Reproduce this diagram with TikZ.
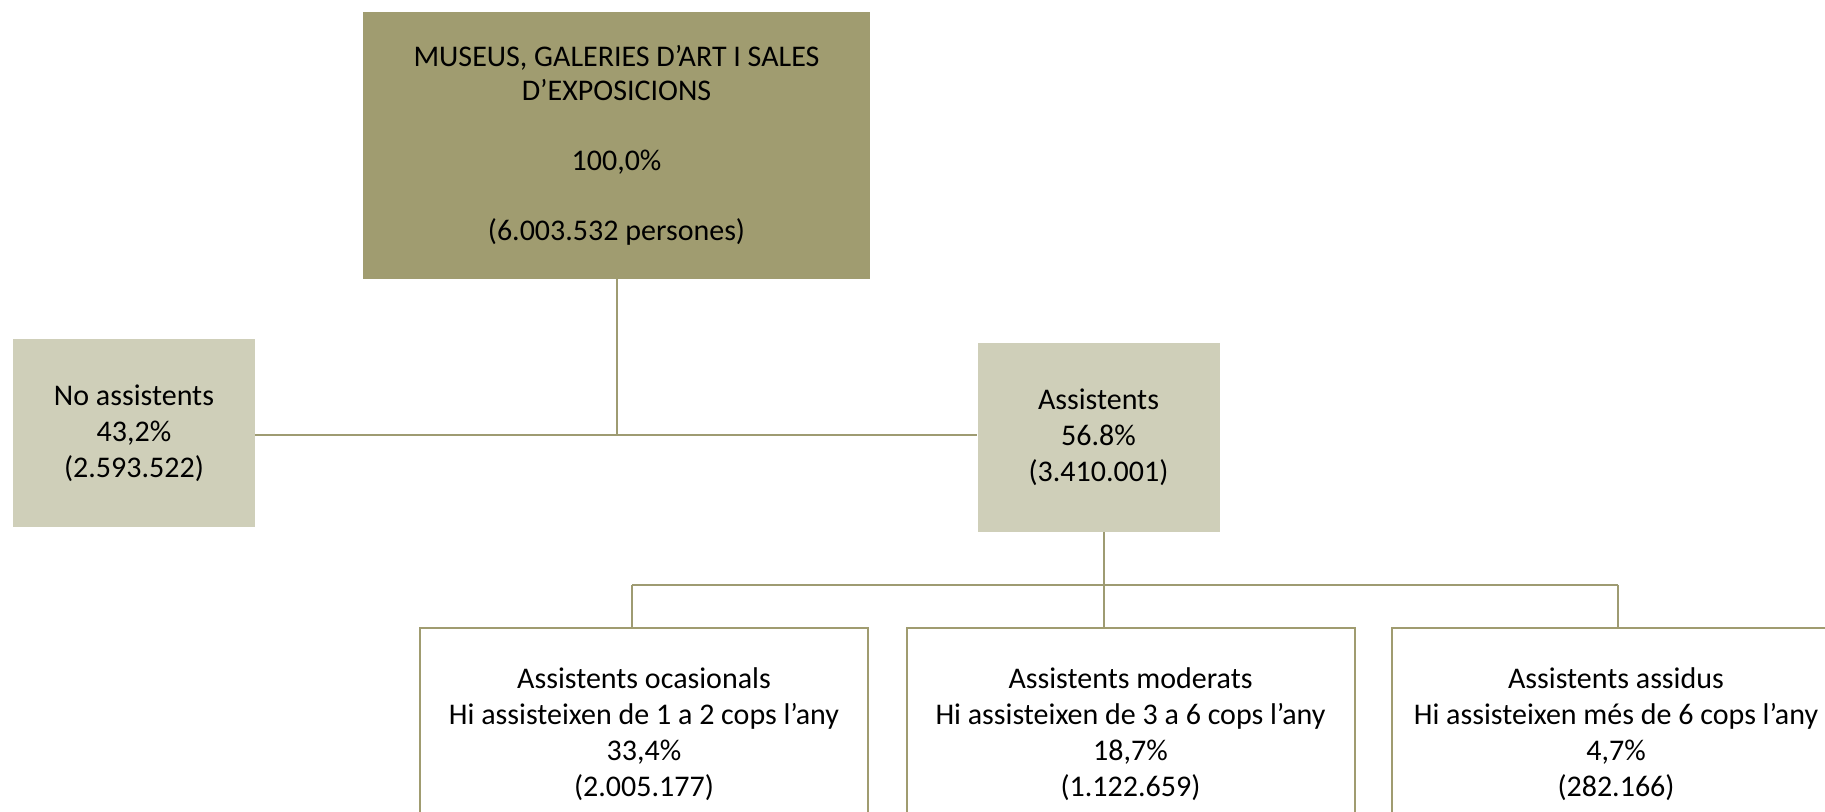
\documentclass[tikz,border=0pt]{standalone}
\usepackage{fontspec}
\setmainfont{Carlito}
\usepackage{tikz}
\usetikzlibrary{calc}
\definecolor{OLIVE}{HTML}{A09C70}
\definecolor{PALE}{HTML}{CFCFB9}
\definecolor{LINE}{HTML}{9E9B72}

\begin{document}
\begin{tikzpicture}[x=0.5pt, y=-0.5pt,
    every node/.style={font=\fontsize{15}{18}\selectfont, align=center, inner sep=0pt},
    rootbox/.style={fill=OLIVE, minimum width=253.5pt, minimum height=133.5pt},
    groupbox/.style={fill=PALE, minimum width=121pt, minimum height=94pt},
    leafbox/.style={draw=OLIVE, line width=1pt, minimum width=224pt, minimum height=106pt},
    link/.style={LINE, line width=1pt},
    bus/.style={LINE, line width=1.4pt}]
    \useasboundingbox (0,0) rectangle (1825,812);
    \clip (0,0) rectangle (1825,812);
    % boxes
    \node[rootbox] (root) at (616.5,145.5) {MUSEUS, GALERIES D'ART I SALES\\[-1pt]D'EXPOSICIONS\\[17pt]100,0\%\\[17pt](6.003.532 persones)};
    \node[groupbox] (noass) at (134,433) {No assistents\\43,2\%\\(2.593.522)};
    \node[groupbox] (ass) at (1098.5,437.5) {Assistents\\56.8\%\\(3.410.001)};
    \node[leafbox] (ocas) at (644,734) {Assistents ocasionals\\Hi assisteixen de 1 a 2 cops l'any\\33,4\%\\(2.005.177)};
    \node[leafbox] (moder) at (1130.5,734) {Assistents moderats\\Hi assisteixen de 3 a 6 cops l'any\\18,7\%\\(1.122.659)};
    \node[leafbox] (assid) at (1616,734) {Assistents assidus\\Hi assisteixen més de 6 cops l'any\\4,7\%\\(282.166)};
    % connectors
    \coordinate (split) at (616.5,435);
    \coordinate (drop) at (1104,585);
    \coordinate (busL) at (632,585);
    \coordinate (busR) at (1618,585);
    \draw[link] (root.south) -- (split);
    \draw[bus] (noass.east |- split) -- (ass.west |- split);
    \draw[link] (drop |- ass.south) -- (drop |- moder.north);
    \draw[bus] (busL) -- (busR);
    \draw[link] (busL) -- (busL |- ocas.north);
    \draw[link] (busR) -- (busR |- assid.north);
\end{tikzpicture}
\end{document}
